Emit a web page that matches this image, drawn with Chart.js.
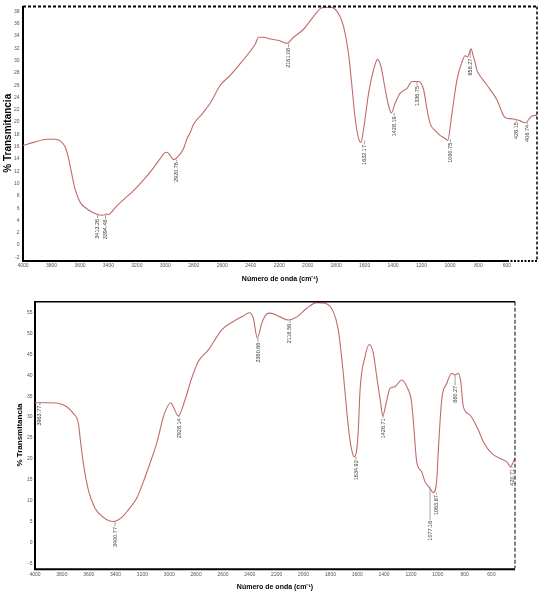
<!DOCTYPE html>
<html>
<head>
<meta charset="utf-8">
<script src="https://cdn.jsdelivr.net/npm/chart.js@4.4.1/dist/chart.umd.min.js"></script>
<style>
  html, body { margin:0; padding:0; background:#fff; }
  body { width:539px; height:595px; position:relative; overflow:hidden; }
  .box { position:absolute; left:0; width:539px; }
</style>
</head>
<body>
<div class="box" style="top:0;height:292px"><canvas id="c1"></canvas></div>
<div class="box" style="top:292px;height:303px"><canvas id="c2"></canvas></div>
<script>
// ---------- DATA (top spectrum) ----------
const wavenumbersTop = [4000,3926,3831,3773,3726,3703,3680,3656,3633,3597,
  3539,3480,3440,3415,3399,3380,3352,3293,3234,3153,
  3082,3035,2995,2977,2942,2907,2872,2848,2825,2801,
  2743,2684,2614,2544,2474,2415,2368,2345,2310,2263,
  2192,2150,2099,2029,1958,1900,1841,1794,1759,1736,
  1713,1689,1666,1642,1626,1607,1572,1537,1509,1485,
  1455,1431,1413,1385,1350,1302,1267,1221,1186,1162,
  1139,1104,1068,1033,1017,986,951,916,893,877,
  851,840,822,811,800,740,670,612,553,507,
  471,424,389];
const transmittanceTop = [16.2,16.7,17.2,17.2,16.7,15.9,14.1,11.4,9.0,6.9,
  5.7,5.0,4.85,5.05,4.95,5.3,6.1,7.4,8.6,10.6,
  12.6,14.1,15.1,14.9,13.9,14.5,15.7,17.3,18.3,19.7,
  21.3,23.1,26.0,27.6,29.5,31.2,32.7,33.8,33.8,33.5,
  33.2,32.8,33.8,35.1,37.2,38.6,38.7,38.0,36.4,34.3,
  31.1,25.8,20.5,17.3,16.7,18.9,24.7,28.5,30.2,29.0,
  25.3,22.6,21.5,23.1,24.7,25.5,26.6,26.6,25.3,22.1,
  19.7,18.6,17.8,17.3,17.0,21.5,26.9,29.8,30.8,30.6,
  31.9,31.0,29.5,28.4,27.9,26.0,23.6,20.7,20.5,20.2,
  19.9,21.0,21.1];
const xTicksTop = [4000,3800,3600,3400,3200,3000,2800,2600,2400,2200,2000,1800,1600,1400,1200,1000,800,600];
const yTicksTop = [-2,0,2,4,6,8,10,12,14,16,18,20,22,24,26,28,30,32,34,36,38];
const peakTextTop  = ["3413.26","3394.46","2920.76","2161.08","1632.17","1428.19","1336.75","1060.75","858.27","426.15","406.74"];
const peakWaveTop  = [3476,3420,2921,2134,1602,1392,1232,998,858,535,457];
const peakValueTop = [5.0,4.9,13.9,32.8,17.0,21.5,26.6,17.2,31.7,20.4,19.95];

// ---------- DATA (bottom spectrum) ----------
const wavenumbersBottom = [4000,3888,3826,3764,3715,3677,3665,3640,3603,3553,
  3491,3417,3354,3305,3243,3193,3143,3094,3069,3044,
  2989,2970,2933,2883,2833,2784,2709,2609,2523,2449,
  2404,2374,2344,2311,2274,2249,2175,2113,2051,1976,
  1902,1840,1778,1741,1704,1674,1654,1641,1624,1604,
  1592,1579,1542,1510,1480,1455,1425,1410,1385,1356,
  1318,1269,1231,1194,1177,1157,1120,1095,1063,1033,
  1008,996,971,933,896,871,847,829,810,760,
  698,661,598,536,486,457,437,425];
const transmittanceBottom = [33.45,33.45,33.3,32.5,30.9,28.5,25.3,19.0,12.6,8.2,
  6.0,5.0,6.0,7.8,10.6,14.5,19.0,23.7,26.9,30.1,
  33.45,32.5,30.3,34.1,39.3,43.3,46.1,50.9,52.9,54.2,
  55.0,53.7,48.9,52.5,54.7,54.9,54.0,53.25,54.0,56.05,
  57.4,57.25,55.2,50.9,40.5,30.1,24.5,22.1,20.5,22.1,
  26.9,36.5,44.5,47.4,45.3,39.7,33.3,30.3,33.3,36.9,
  37.3,38.9,37.3,33.3,26.9,19.3,16.9,14.5,13.2,11.9,
  14.95,22.1,34.1,38.1,40.5,40.1,40.5,38.5,32.5,30.5,
  26.9,24.1,21.3,20.1,19.3,18.1,19.3,20.1];
const xTicksBottom = [4000,3800,3600,3400,3200,3000,2800,2600,2400,2200,2000,1800,1600,1400,1200,1000,800,600];
const yTicksBottom = [-5,0,5,10,15,20,25,30,35,40,45,50,55];
const peakTextBottom  = ["3963.77","3400.77","2928.14","2360.66","2116.56","1634.92","1426.71","1077.16","1063.87","860.27","420.71"];
const peakWaveBottom  = [3963,3404,2927,2339,2101,1609,1408,1058,1009,871,447];
const peakValueBottom = [33.45,5.0,30.3,48.9,53.2,20.5,30.3,13.2,11.9,40.0,18.1];

// ---------- STYLE ----------
const FONT = '"Liberation Sans", Arial, sans-serif';
Chart.defaults.font.family = FONT;
const LINE_COLOR = '#c26a6a';

const peakPlugin = {
  id: 'peakLabels',
  afterDatasetsDraw(chart, args, o) {
    const {ctx, scales: {x, y}} = chart;
    ctx.save();
    ctx.font = o.fontSize + 'px ' + FONT;
    ctx.fillStyle = '#3a3a3a';
    ctx.strokeStyle = '#8a8a8a';
    ctx.lineWidth = 0.8;
    o.wave.forEach((w, i) => {
      const px = x.getPixelForValue(w);
      const py = y.getPixelForValue(o.value[i]);
      const gap = o.gaps[i];
      ctx.beginPath();
      ctx.moveTo(px, py);
      ctx.lineTo(px, py + gap);
      ctx.stroke();
      ctx.save();
      ctx.translate(px, py + gap + 0.5);
      ctx.rotate(-Math.PI / 2);
      ctx.textAlign = 'right';
      ctx.textBaseline = 'middle';
      ctx.fillText(o.text[i], 0, 0);
      ctx.restore();
    });
    ctx.restore();
  }
};

const framePlugin = {
  id: 'frame',
  afterDraw(chart, args, o) {
    const {ctx, chartArea: a, scales: {x}} = chart;
    ctx.save();
    ctx.strokeStyle = '#000';
    // top edge
    ctx.lineWidth = o.topWidth;
    ctx.setLineDash(o.topDash);
    ctx.beginPath(); ctx.moveTo(a.left, a.top); ctx.lineTo(a.right, a.top); ctx.stroke();
    // right edge
    ctx.lineWidth = o.rightWidth;
    ctx.setLineDash(o.rightDash);
    ctx.beginPath(); ctx.moveTo(a.right, a.top); ctx.lineTo(a.right, a.bottom); ctx.stroke();
    // bottom axis: solid up to the last labelled tick, dotted beyond
    const xs = o.solidTo != null ? x.getPixelForValue(o.solidTo) : a.right;
    ctx.lineWidth = 2;
    ctx.setLineDash([]);
    ctx.beginPath(); ctx.moveTo(a.left - 1, a.bottom + 1); ctx.lineTo(xs, a.bottom + 1); ctx.stroke();
    if (xs < a.right) {
      ctx.setLineDash([2, 1.5]);
      ctx.beginPath(); ctx.moveTo(xs, a.bottom + 1); ctx.lineTo(a.right, a.bottom + 1); ctx.stroke();
    }
    ctx.restore();
  }
};

function makeChart(id, cfg) {
  return new Chart(document.getElementById(id), {
    type: 'line',
    data: {
      datasets: [{
        data: cfg.w.map((w, i) => ({x: w, y: cfg.t[i]})),
        borderColor: LINE_COLOR,
        borderWidth: 1.1,
        pointRadius: 0,
        cubicInterpolationMode: 'monotone',
        fill: false
      }]
    },
    options: {
      responsive: true,
      maintainAspectRatio: false,
      animation: false,
      events: [],
      layout: { padding: cfg.padding },
      plugins: {
        legend: { display: false },
        tooltip: { enabled: false },
        peakLabels: cfg.peaks,
        frame: cfg.frame
      },
      scales: {
        x: {
          type: 'linear',
          reverse: true,
          min: cfg.xMin, max: 4000,
          afterBuildTicks: s => { s.ticks = cfg.xTicks.map(v => ({value: v})); },
          afterFit: s => { s.height = cfg.xHeight; },
          grid: { display: false, drawTicks: false },
          border: { display: false },
          ticks: { autoSkip: false, maxRotation: 0, padding: cfg.xTickPad, color: '#555',
                   font: { size: 5 }, callback: v => String(v) },
          title: { display: true, text: 'Número de onda (cm⁻¹)', color: '#000',
                   font: { size: 7, weight: 'bold' }, padding: { top: 0, bottom: cfg.xTitlePad } }
        },
        y: {
          type: 'linear',
          min: cfg.yMin, max: cfg.yMax,
          afterBuildTicks: s => { s.ticks = cfg.yTicks.map(v => ({value: v})); },
          afterFit: s => { s.width = cfg.yWidth; },
          grid: { display: false, drawTicks: false },
          border: { display: true, color: '#000', width: 2 },
          ticks: { autoSkip: false, padding: cfg.yTickPad, color: '#555',
                   font: { size: 5 }, callback: v => String(v) },
          title: { display: true, text: '% Transmitancia', color: '#000',
                   font: { size: cfg.yTitleSize, weight: 'bold' }, padding: { top: cfg.yTitlePad, bottom: 0 } }
        }
      }
    },
    plugins: [peakPlugin, framePlugin]
  });
}

makeChart('c1', {
  w: wavenumbersTop, t: transmittanceTop,
  xMin: 389, xTicks: xTicksTop, yTicks: yTicksTop,
  yMin: -2.43, yMax: 38.8,
  padding: { top: 2, right: 2, left: 0, bottom: 0 },
  xHeight: 32, yWidth: 23,
  xTickPad: 2.5, yTickPad: 3.5, xTitlePad: 8.8, yTitlePad: 2, yTitleSize: 10,
  peaks: { text: peakTextTop, wave: peakWaveTop, value: peakValueTop,
           gaps: [4,4,2,4,4,3,4,3,8,2,2], fontSize: 5.5 },
  frame: { topWidth: 2, topDash: [3,2], rightWidth: 1.5, rightDash: [3,2], solidTo: 600 }
});

makeChart('c2', {
  w: wavenumbersBottom, t: transmittanceBottom,
  xMin: 425, xTicks: xTicksBottom, yTicks: yTicksBottom,
  yMin: -6.19, yMax: 57.63,
  padding: { top: 9.7, right: 24, left: 0, bottom: 0 },
  xHeight: 26.7, yWidth: 35,
  xTickPad: 3.2, yTickPad: 2.5, xTitlePad: 3.8, yTitlePad: 15, yTitleSize: 8,
  peaks: { text: peakTextBottom, wave: peakWaveBottom, value: peakValueBottom,
           gaps: [2.5,5,2,4,3,3,2,33,2,10,1.5], fontSize: 5.5 },
  frame: { topWidth: 1.5, topDash: [], rightWidth: 1, rightDash: [4,2], solidTo: null }
});
</script>
</body>
</html>
